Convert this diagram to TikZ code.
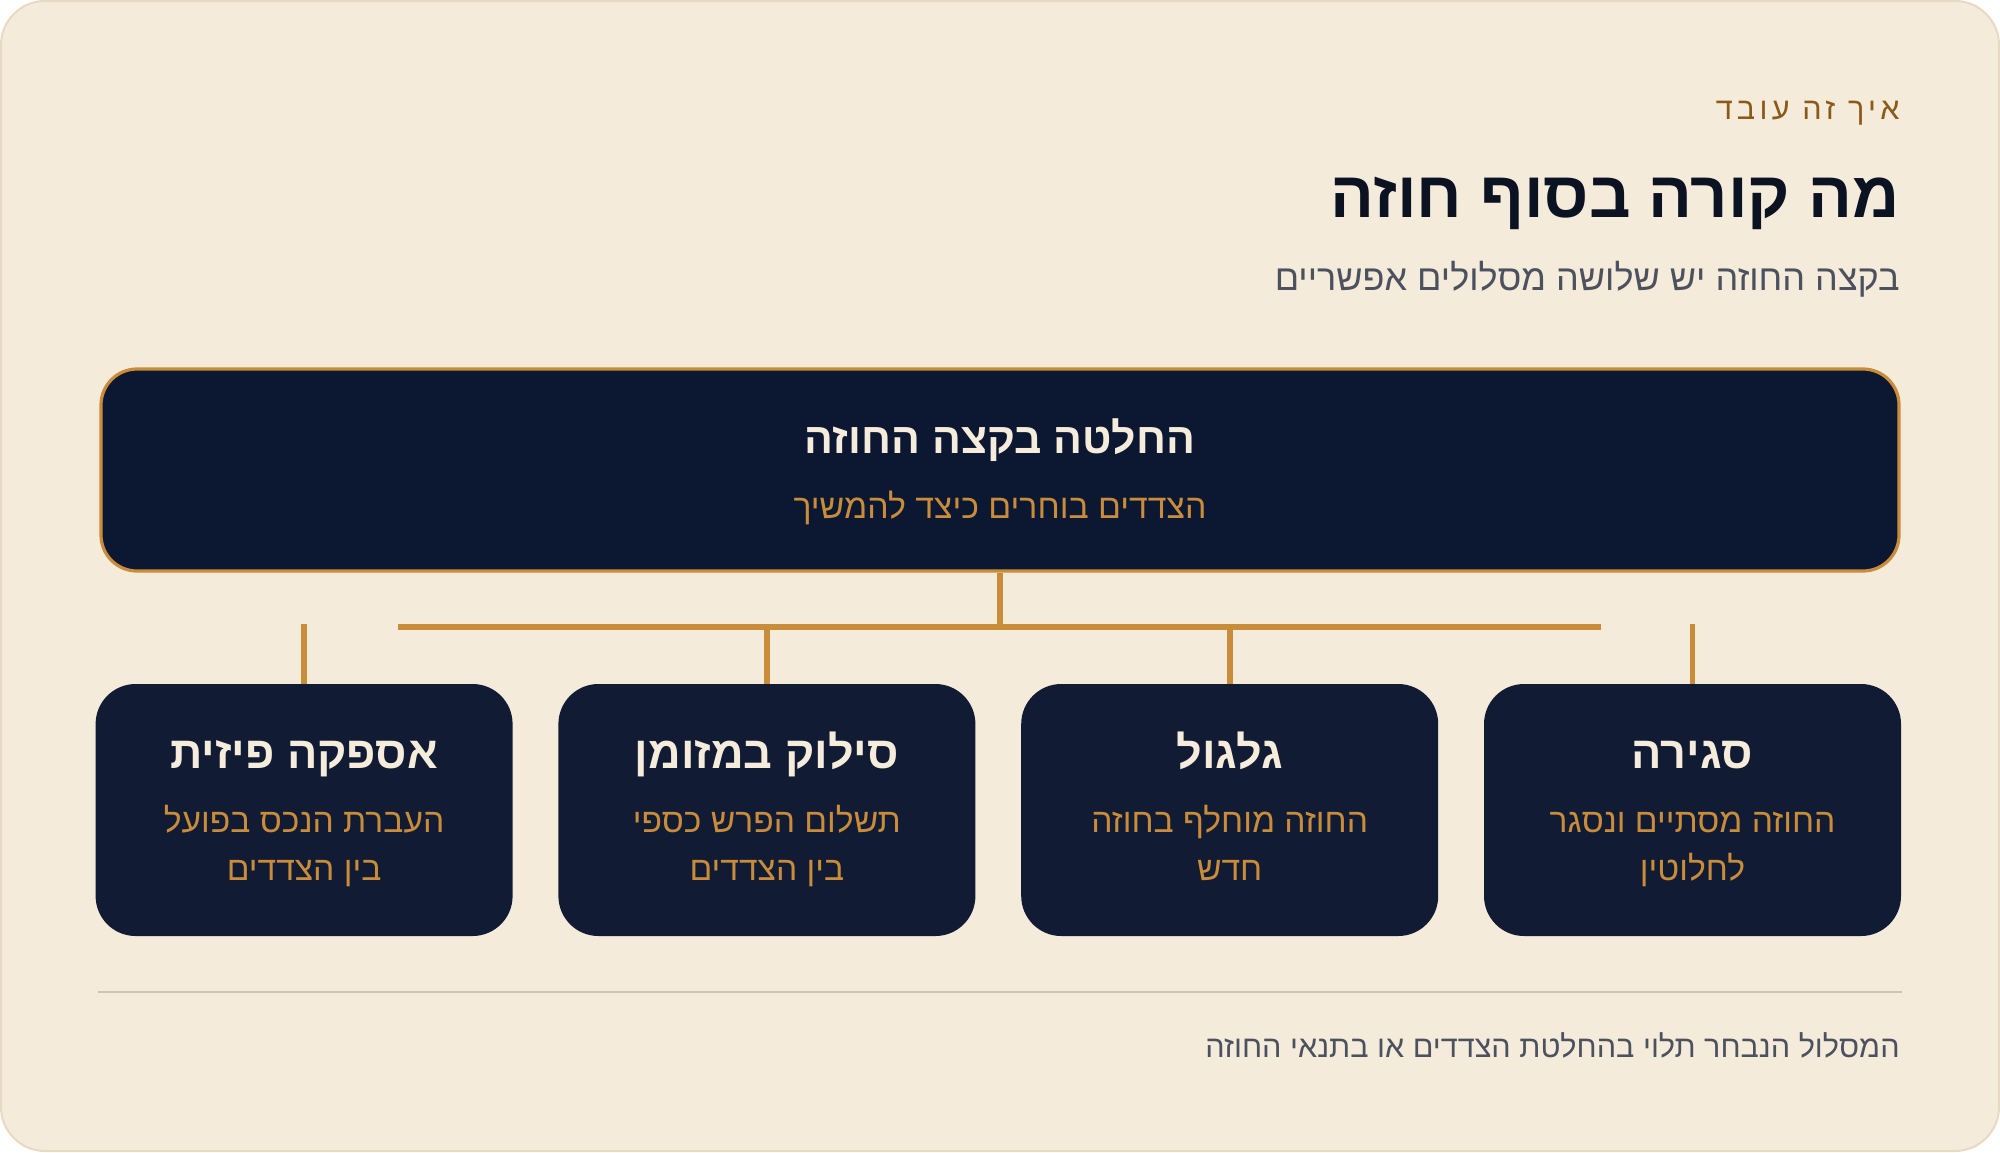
\documentclass[tikz,border=0pt]{standalone}
\usepackage{fontspec}
\setmainfont[Script=Hebrew]{Liberation Sans}
\TeXXeTstate=1
\usetikzlibrary{positioning}
\definecolor{bgcream}{HTML}{F5EBDB}
\definecolor{bgedge}{HTML}{E6DBC2}
\definecolor{navytop}{HTML}{0C1832}
\definecolor{navycard}{HTML}{111B34}
\definecolor{gold}{HTML}{C98C3A}
\definecolor{creamtext}{HTML}{F5ECDC}
\definecolor{kickbrown}{HTML}{8B5A18}
\definecolor{inkgray}{HTML}{4B515E}
\definecolor{inkdark}{HTML}{0B1221}
\definecolor{rulegray}{HTML}{CEC5B6}
\newcommand{\hebline}[1]{\beginR\strut #1\endR}

\begin{document}
\begin{tikzpicture}[x=0.5pt, y=-0.5pt, node distance=22.5pt,
    head/.style={inner sep=0pt, anchor=base east},
    kicker/.style={head, text=kickbrown, font=\fontsize{15.3}{18}\selectfont\addfontfeatures{LetterSpace=14}},
    maintitle/.style={head, text=inkdark, font=\bfseries\fontsize{32.5}{38}\selectfont},
    subtitle/.style={head, text=inkgray, font=\fontsize{18}{22}\selectfont},
    topbox/.style={rectangle, draw=gold, line width=1.6pt, fill=navytop,
      rounded corners=18pt, minimum width=899pt, minimum height=101pt},
    toptitle/.style={anchor=base, text=creamtext, font=\bfseries\fontsize{21.4}{26}\selectfont},
    topdesc/.style={anchor=base, text=gold, font=\fontsize{16.9}{24}\selectfont},
    card/.style={rectangle, fill=navycard, rounded corners=20pt,
      minimum width=208.5pt, minimum height=126pt, inner sep=0pt},
    cardtitle/.style={anchor=base, text=creamtext, font=\bfseries\fontsize{22.5}{26}\selectfont},
    carddesc/.style={inner sep=0pt, text=gold, align=center, font=\fontsize{16.8}{24}\selectfont},
    link/.style={draw=gold, line width=2.8pt}]

  \useasboundingbox (0,0) rectangle (2000,1152);
  \draw[bgedge, fill=bgcream, line width=1pt, rounded corners=22pt] (1,1) rectangle (1999,1151);

  \node[kicker] (kick) at (1900,119) {\beginR איך זה עובד\endR};
  \node[maintitle] (title) at (1900,217) {\beginR מה קורה בסוף חוזה\endR};
  \node[subtitle] (sub) at (1900,290) {\beginR בקצה החוזה יש שלושה מסלולים אפשריים\endR};

  \node[topbox] (dec) at (1000,470) {};
  \node[toptitle] (dect) at (1000,453) {\beginR החלטה בקצה החוזה\endR};
  \node[topdesc] (decs) at (1000,518) {\beginR הצדדים בוחרים כיצד להמשיך\endR};

  \node[card] (close) at (1692.5,810) {};
  \node[card, left=of close] (roll) {};
  \node[card, left=of roll] (cash) {};
  \node[card, left=of cash] (phys) {};

  \node[cardtitle] (closet) at ([yshift=21pt]close.center) {\beginR סגירה\endR};
  \node[carddesc] (closed) at ([yshift=-18.2pt]close.center) {\hebline{החוזה מסתיים ונסגר}\\\hebline{לחלוטין}};
  \node[cardtitle] (rollt) at ([yshift=21pt]roll.center) {\beginR גלגול\endR};
  \node[carddesc] (rolld) at ([yshift=-18.2pt]roll.center) {\hebline{החוזה מוחלף בחוזה}\\\hebline{חדש}};
  \node[cardtitle] (casht) at ([yshift=21pt]cash.center) {\beginR סילוק במזומן\endR};
  \node[carddesc] (cashd) at ([yshift=-18.2pt]cash.center) {\hebline{תשלום הפרש כספי}\\\hebline{בין הצדדים}};
  \node[cardtitle] (physt) at ([yshift=21pt]phys.center) {\beginR אספקה פיזית\endR};
  \node[carddesc] (physd) at ([yshift=-18.2pt]phys.center) {\hebline{העברת הנכס בפועל}\\\hebline{בין הצדדים}};

  \coordinate (barL) at (398,627);
  \coordinate (barR) at (1601,627);
  \draw[link] (barL) -- (barR);
  \draw[link] (dec.south) -- (dec.south |- barL);
  \draw[link] (roll.north |- barL) -- (roll.north);
  \draw[link] (cash.north |- barL) -- (cash.north);
  \draw[link] ([yshift=1.5pt]close.north |- barL) -- (close.north);
  \draw[link] ([yshift=1.5pt]phys.north |- barL) -- (phys.north);

  \draw[rulegray, line width=1pt] (98,992) -- (1902,992);
  \node[subtitle, font=\fontsize{15.3}{19}\selectfont] (foot) at (1900,1057) {\beginR המסלול הנבחר תלוי בהחלטת הצדדים או בתנאי החוזה\endR};
\end{tikzpicture}
\end{document}
